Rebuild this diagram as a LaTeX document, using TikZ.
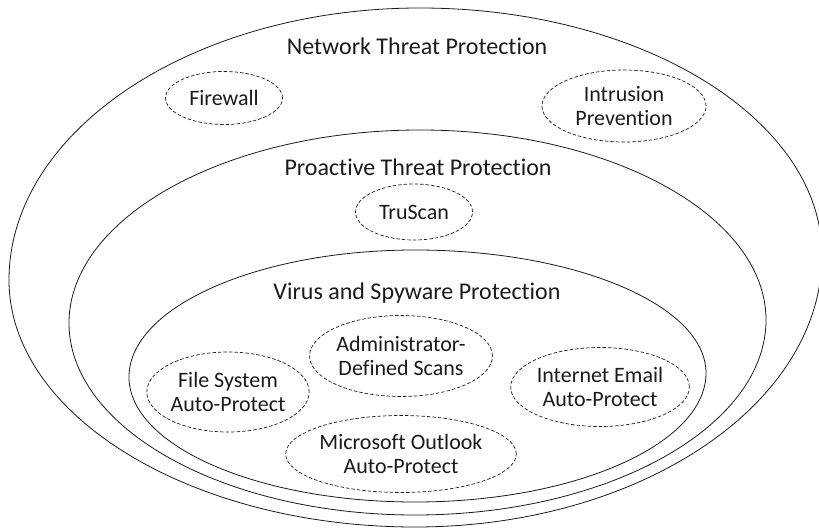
\documentclass[tikz,border=0pt]{standalone}
\usepackage{fontspec}
\setmainfont{Carlito}[Ligatures=NoCommon]
\usetikzlibrary{shapes.geometric,positioning}
\definecolor{ringInk}{HTML}{1A1A1A}
\tikzset{
    ring/.style={draw=ringInk, line width=0.8pt},
    ringlabel/.style={anchor=base, font=\fontsize{24}{26}\selectfont, text=ringInk},
    feature/.style={ellipse, draw=ringInk, line width=0.7pt, dash pattern=on 3.5pt off 2pt, align=center, inner sep=0pt, font=\fontsize{22}{24}\selectfont, text=ringInk}
}
\begin{document}
\begin{tikzpicture}[x=1pt, y=-1pt]
\useasboundingbox (0,0) rectangle (819,529);
% protection rings, outer to inner
\draw[ring] (420,8) .. controls (641,8) and (822,119) .. (822,255)
    .. controls (822,405) and (639,527) .. (415,527)
    .. controls (192,527) and (9,416) .. (9,280)
    .. controls (9,130) and (194,8) .. (420,8) -- cycle;
\draw[ring] (420,130) .. controls (610,130) and (766,215) .. (766,320)
    .. controls (766,427) and (608,515) .. (415,515)
    .. controls (225,515) and (69,429) .. (69,323)
    .. controls (69,217) and (227,130) .. (420,130) -- cycle;
\draw[ring] (415,250) .. controls (575,250) and (706,305) .. (706,373)
    .. controls (706,444) and (575,502) .. (415,502)
    .. controls (258,502) and (129,446) .. (129,377)
    .. controls (129,307) and (258,250) .. (415,250) -- cycle;
\node[ringlabel] (ntp) at (417,55) {Network Threat Protection};
\node[ringlabel] (ptp) at (418,176) {Proactive Threat Protection};
\node[ringlabel] (vsp) at (417,300) {Virus and Spyware Protection};
% features in each ring
\node[feature, minimum width=117pt, minimum height=53pt] (firewall) at (224,98) {Firewall};
\node[feature, minimum width=164pt, minimum height=72pt] (ips) at (624,106) {Intrusion\\Prevention};
\node[feature, minimum width=117pt, minimum height=56pt] (truscan) at (414,212) {TruScan};
\node[feature, minimum width=171pt, minimum height=81pt] (adminscan) at (401,356) {Administrator-\\Defined Scans};
\node[feature, minimum width=155pt, minimum height=80pt] (fsap) at (228,392) {File System\\Auto-Protect};
\node[feature, minimum width=165pt, minimum height=79pt] (emailap) at (600,387) {Internet Email\\Auto-Protect};
\node[feature, minimum width=229pt, minimum height=77pt] (outlookap) at (401,454) {Microsoft Outlook\\Auto-Protect};
\end{tikzpicture}
\end{document}
